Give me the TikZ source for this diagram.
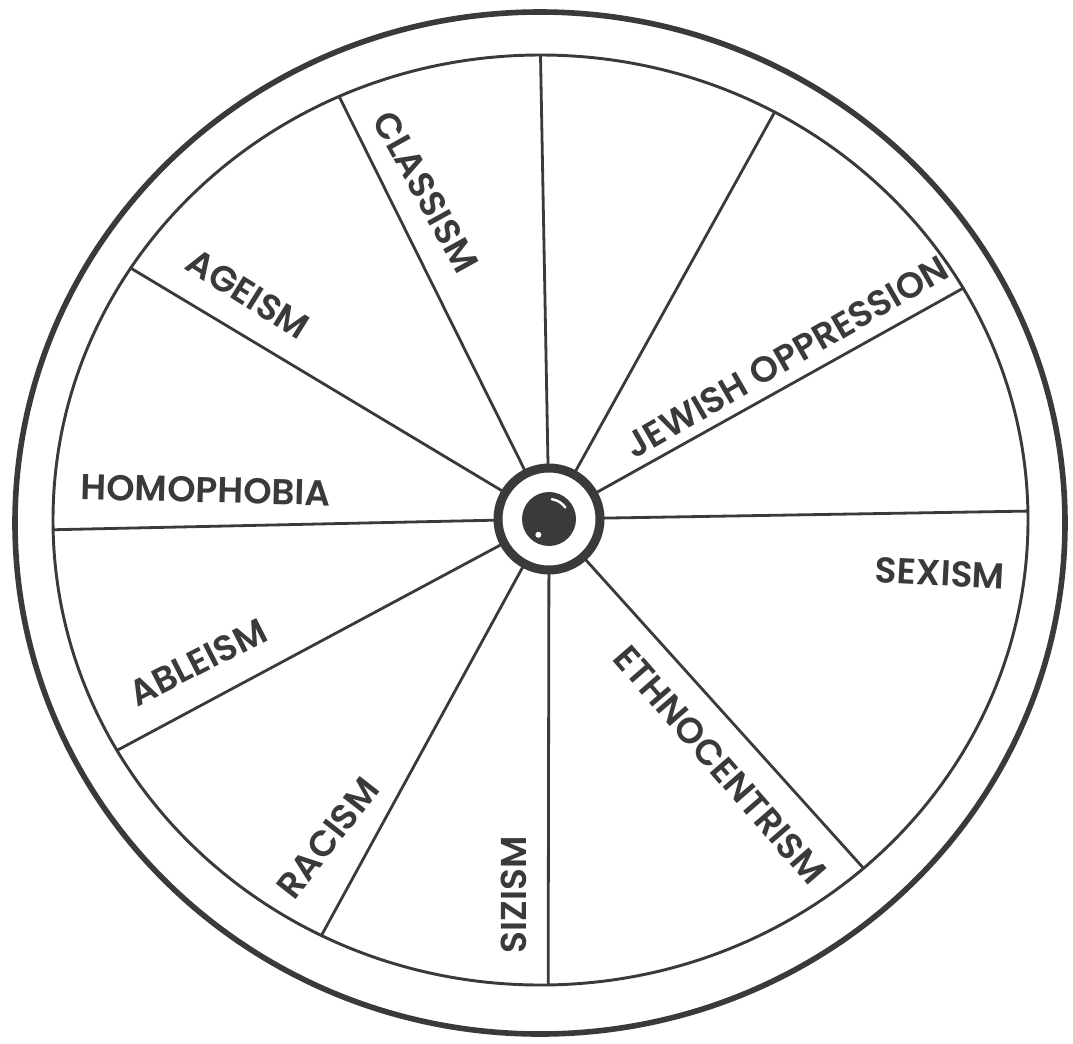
\documentclass[tikz,border=0pt]{standalone}
\usepackage{fontspec}
\newfontfamily\labfont{Poppins SemiBold}
\usetikzlibrary{calc}
\definecolor{ink}{HTML}{3A3A3A}
\begin{document}
\begin{tikzpicture}[x=0.75pt,y=-0.75pt,line join=round,line cap=round,
  rim/.style={draw=ink,line width=4.2pt},
  tire/.style={draw=ink,line width=2.2pt},
  spoke/.style={draw=ink,line width=2.1pt},
  lab/.style={text=ink,font=\labfont\fontsize{27}{30}\selectfont,inner sep=0pt}]
\useasboundingbox (0,0) rectangle (1073,1043);
\fill[white] (0,0) rectangle (1073,1043);
\coordinate (ec) at (540.5,520);
\coordinate (oc) at (540,523);
\coordinate (hub) at (549,519);
% spokes
\foreach \t [count=\i] in {-90,-61.3,-29.9,-1.1,48.5,89.1,116.7,150.3,178.8,212.8,245.6}{
  \coordinate (s\i) at ($(ec)+(\t:487.5 and 465)$);
  \draw[spoke] (hub) -- (s\i);
}
% rims
\draw[rim] (oc) ellipse [x radius=525, y radius=511];
\draw[tire] (ec) ellipse [x radius=487.5, y radius=465];
% hub
\draw[draw=ink,fill=white,line width=6.75pt] (hub) circle [radius=51];
\fill[ink] (hub) circle [radius=27];
\draw[white,line width=1.8pt] ($(hub)+(-82:20)$) arc [start angle=-82, end angle=-35, radius=20];
\fill[white] ($(hub)+(124:19)$) circle [radius=3];
% labels
\node[lab,rotate=-61] (classism) at (426,192) {CLASSISM};
\node[lab,rotate=-32] (ageism) at (248,294) {AGEISM};
\node[lab,rotate=-1.5] (homophobia) at (206,490) {HOMOPHOBIA};
\node[lab,rotate=27] (ableism) at (198,662) {ABLEISM};
\node[lab,rotate=52] (racism) at (328,838) {RACISM};
\node[lab,rotate=90] (sizism) at (514,895) {SIZISM};
\node[lab,rotate=-49] (ethno) at (720,765) {ETHNOCENTRISM};
\node[lab,rotate=-3] (sexism) at (940,573) {SEXISM};
\node[lab,rotate=30] (jewish) at (787,357) {JEWISH OPPRESSION};
\end{tikzpicture}
\end{document}
